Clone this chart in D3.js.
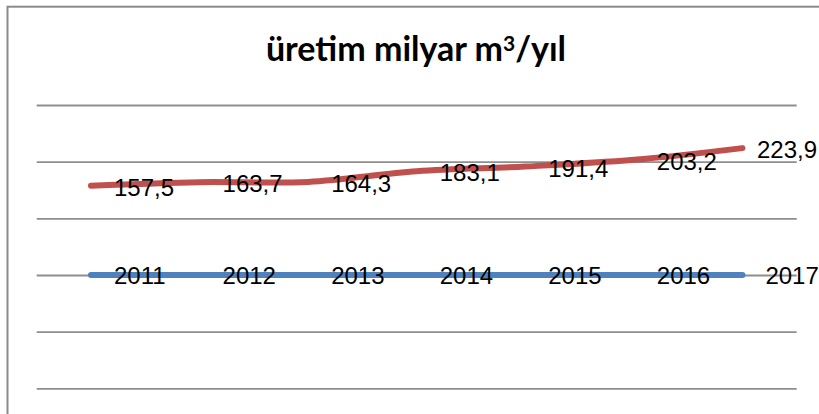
<!DOCTYPE html>
<html>

<head>
    <meta charset="utf-8">
    <title>üretim milyar m3/yıl</title>
    <script src="https://d3js.org/d3.v7.min.js"></script>
    <style>
        body { margin: 0; background: #ffffff; }
    </style>
</head>

<body>
    <svg></svg>
    <script>
        // dati del grafico
        var anni = ["2011", "2012", "2013", "2014", "2015", "2016", "2017"];
        var uretim = [157.5, 163.7, 164.3, 183.1, 191.4, 203.2, 223.9];
        // la serie "yıl" è testo, quindi Excel la disegna a 0
        var yilDegerleri = [0, 0, 0, 0, 0, 0, 0];
        var yTicks = [-200, -100, 0, 100, 200, 300];

        // dimensioni
        var larghezza = 819;
        var altezza = 414;
        var margine = { sinistro: 36.7, destro: 22.3, superiore: 105, inferiore: 25.7 };

        var svg = d3.select("svg")
            .attr("width", larghezza)
            .attr("height", altezza);

        // cornice del grafico (tagliata a destra e in basso)
        svg.append("rect")
            .attr("x", 7.5)
            .attr("y", 6.7)
            .attr("width", 830)
            .attr("height", 430)
            .attr("fill", "none")
            .attr("stroke", "#8a8a8a")
            .attr("stroke-width", 2);

        // scale
        var scalaX = d3.scalePoint()
            .domain(anni)
            .range([margine.sinistro, larghezza - margine.destro])
            .padding(0.5);

        var scalaY = d3.scaleLinear()
            .domain([d3.min(yTicks), d3.max(yTicks)])
            .range([altezza - margine.inferiore, margine.superiore]);

        // griglia orizzontale
        var griglia = svg.append("g")
            .attr("transform", "translate(" + margine.sinistro + ",0)")
            .call(d3.axisLeft(scalaY)
                .tickValues(yTicks)
                .tickSize(-(larghezza - margine.sinistro - margine.destro))
                .tickFormat(""));
        griglia.select(".domain").remove();
        griglia.selectAll(".tick line")
            .attr("stroke", "#8e8e8e")
            .attr("stroke-width", 1.8);

        // titolo
        var titolo = svg.append("text")
            .attr("x", 416)
            .attr("y", 61)
            .attr("text-anchor", "middle")
            .style("font-family", "Lato, 'Open Sans', sans-serif")
            .style("font-weight", "700")
            .style("font-size", "34px")
            .attr("fill", "#000");
        titolo.append("tspan").text("üretim milyar m");
        titolo.append("tspan").attr("dy", -10).style("font-size", "21px").text("3");
        titolo.append("tspan").attr("dy", 10).text("/yıl");

        // linee
        var linea = d3.line()
            .x(function (d, i) { return scalaX(anni[i]); })
            .y(function (d) { return scalaY(d); })
            .curve(d3.curveCatmullRom.alpha(0.5));

        svg.append("path")
            .datum(yilDegerleri)
            .attr("d", linea)
            .attr("fill", "none")
            .attr("stroke", "#4f81bd")
            .attr("stroke-width", 6)
            .attr("stroke-linecap", "round");

        svg.append("path")
            .datum(uretim)
            .attr("d", linea)
            .attr("fill", "none")
            .attr("stroke", "#c0504d")
            .attr("stroke-width", 6)
            .attr("stroke-linecap", "round");

        // etichette dei dati
        var formato = d3.formatLocale({ decimal: ",", thousands: ".", grouping: [3], currency: ["", ""] }).format(".1f");

        svg.selectAll(".etichetta-uretim")
            .data(uretim)
            .enter()
            .append("text")
            .attr("class", "etichetta-uretim")
            .attr("x", function (d, i) { return scalaX(anni[i]) + 23; })
            .attr("y", function (d) { return scalaY(d); })
            .attr("dy", "0.42em")
            .style("font-family", "'Liberation Sans', Arial, sans-serif")
            .style("font-size", "24px")
            .attr("fill", "#000")
            .text(function (d) { return formato(d); })
            .each(function () {
                // come Excel: l'etichetta resta dentro il grafico
                var w = this.getComputedTextLength();
                var x = +d3.select(this).attr("x");
                if (x + w > larghezza - 2) d3.select(this).attr("x", larghezza - 2 - w);
            });

        svg.selectAll(".etichetta-yil")
            .data(yilDegerleri)
            .enter()
            .append("text")
            .attr("class", "etichetta-yil")
            .attr("x", function (d, i) { return scalaX(anni[i]) + 23; })
            .attr("y", function (d) { return scalaY(d); })
            .attr("dy", "0.38em")
            .style("font-family", "'Liberation Sans', Arial, sans-serif")
            .style("font-size", "24px")
            .attr("fill", "#000")
            .text(function (d, i) { return anni[i]; });
    </script>
</body>

</html>
